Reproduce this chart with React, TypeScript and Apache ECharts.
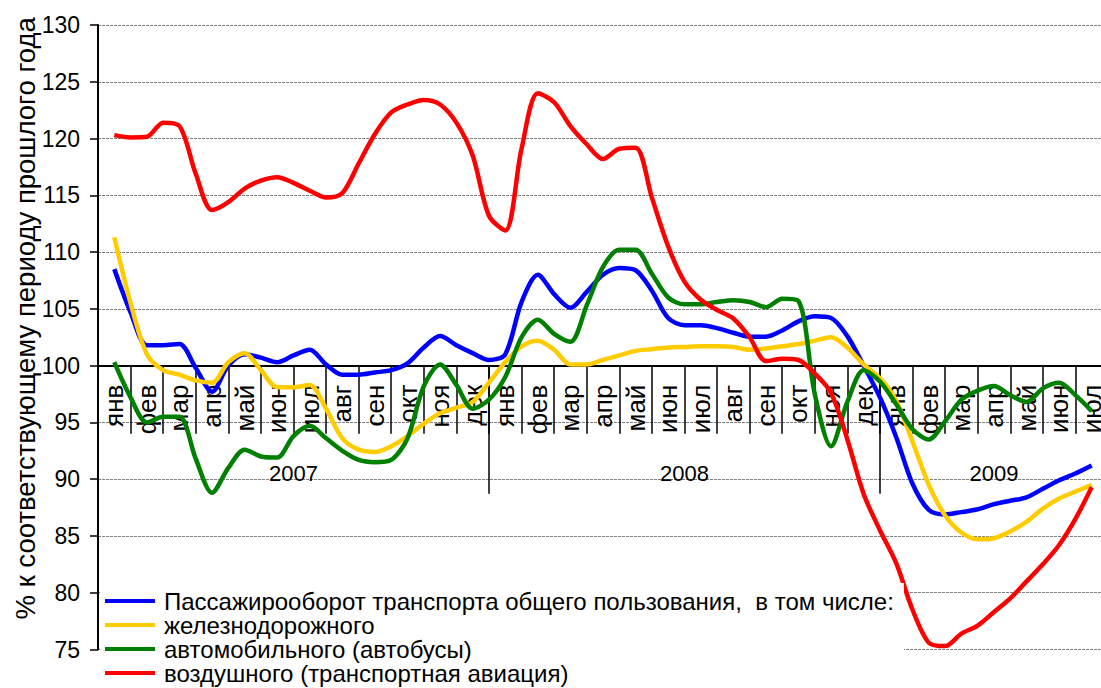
import React, { useEffect, useRef } from 'react';
import * as echarts from 'echarts';

const monthNames = ['янв', 'фев', 'мар', 'апр', 'май', 'июн', 'июл', 'авг', 'сен', 'окт', 'ноя', 'дек'];
const years = ['2007', '2008', '2009'];
const monthsPerYear = [12, 12, 7];
const yTitle = '% к соответствующему периоду прошлого года';

const seriesNames = [
  'Пассажирооборот транспорта общего пользования,  в том числе:',
  'железнодорожного',
  'автомобильного (автобусы)',
  'воздушного (транспортная авиация)',
];
const seriesColors = ['#0000ff', '#ffcc00', '#008000', '#ff0000'];

// values read every half month, starting at January 2007
const totalValues = [
  108.5, 104.7, 101.8, 101.8, 101.9, 99.8, 97.7, 100.0, 101.0, 100.7, 100.3,
  100.9, 101.4, 100.1, 99.2, 99.2, 99.4, 99.6, 100.2, 101.6, 102.6,
  101.8, 101.1, 100.5, 101.0, 105.6, 108.0, 106.3, 105.1, 106.5, 108.0,
  108.6, 108.4, 106.6, 104.2, 103.55, 103.55, 103.3, 102.9, 102.55, 102.55,
  103.1, 103.9, 104.35, 104.2, 102.6, 100.0, 97.2, 93.7, 89.6, 87.3,
  86.9, 87.1, 87.35, 87.8, 88.1, 88.4, 89.15, 89.9, 90.5, 91.2,
];
const railValues = [
  111.3, 105.5, 101.0, 99.6, 99.2, 98.7, 98.5, 100.3, 101.1, 99.6, 98.1,
  98.1, 98.3, 96.2, 93.6, 92.6, 92.4, 92.9, 93.8, 94.9, 95.8,
  96.3, 96.8, 98.5, 100.3, 101.7, 102.2, 101.4, 100.1, 100.1, 100.5,
  100.9, 101.3, 101.45, 101.6, 101.65, 101.7, 101.7, 101.65, 101.4, 101.5,
  101.7, 101.9, 102.2, 102.5, 101.6, 100.1, 98.9, 96.9, 93.3, 89.5,
  86.8, 85.3, 84.7, 84.8, 85.4, 86.25, 87.4, 88.3, 88.9, 89.5,
];
const busValues = [
  100.3, 97.2, 95.0, 95.5, 95.5, 91.8, 88.8, 91.0, 92.6, 92.0, 91.9,
  93.8, 94.7, 93.6, 92.5, 91.7, 91.5, 91.7, 93.6, 98.2, 100.1,
  98.3, 96.2, 97.0, 99.0, 102.5, 104.05, 102.8, 102.1, 105.3, 108.7,
  110.2, 110.2, 108.1, 106.0, 105.4, 105.4, 105.6, 105.75, 105.6, 105.15,
  105.9, 105.7, 97.5, 92.9, 96.8, 99.6, 98.6, 96.6, 94.4, 93.5,
  95.1, 97.0, 97.8, 98.2, 97.4, 96.8, 98.0, 98.5, 97.4, 96.0,
];
const airValues = [
  120.3, 120.1, 120.15, 121.4, 121.1, 116.9, 113.7, 114.4, 115.6, 116.3, 116.6,
  116.1, 115.4, 114.8, 115.2, 117.8, 120.4, 122.3, 123.0, 123.4, 123.0,
  121.4, 118.5, 113.2, 111.9, 119.1, 124.0, 123.2, 121.1, 119.5, 118.2,
  119.1, 119.2, 114.8, 110.5, 107.4, 105.8, 104.9, 104.15, 102.5, 100.4,
  100.6, 100.5, 99.3, 97.6, 93.5, 88.7, 85.5, 82.6, 78.5, 75.6,
  75.3, 76.4, 77.1, 78.3, 79.5, 81.0, 82.5, 84.2, 86.5, 89.3,
];
const allValues = [totalValues, railValues, busValues, airValues];

const yMin = 75;
const yMax = 130;
const yStep = 5;

export default function App() {
  const ref = useRef<HTMLDivElement>(null);

  useEffect(() => {
    if (!ref.current) return;
    const chart = echarts.init(ref.current, undefined, { renderer: 'svg' });

    const categories: string[] = [];
    monthsPerYear.forEach((n) => {
      for (let i = 0; i < n; i++) categories.push(monthNames[i]);
    });
    const nMonths = categories.length;

    const yearBoundaries: number[] = [];
    const yearCenters: number[] = [];
    let start = 0;
    monthsPerYear.forEach((n, k) => {
      yearCenters.push(start + (n - 1) / 2);
      if (k < monthsPerYear.length - 1) yearBoundaries.push(start + n - 0.5);
      start += n;
    });

    const gridTop = 25;
    const gridHeight = 624.5;
    const gridLeft = 98;
    const gridWidth = 1010;
    const axisOffset = -((100 - yMin) / (yMax - yMin)) * gridHeight;

    const font = "'Liberation Sans', Arial, sans-serif";

    const option: any = {
      animation: false,
      backgroundColor: '#ffffff',
      textStyle: { fontFamily: font },
      grid: {
        left: gridLeft,
        top: gridTop,
        width: gridWidth,
        height: gridHeight,
        containLabel: false,
        outerBoundsMode: 'none',
      },
      legend: {
        type: 'plain',
        orient: 'vertical',
        left: 100,
        top: 583,
        backgroundColor: '#ffffff',
        padding: [6, 10, 0, 5],
        itemWidth: 50,
        itemHeight: 4,
        itemGap: 0,
        icon: 'rect',
        selectedMode: false,
        textStyle: { fontSize: 24, color: '#000', lineHeight: 24, padding: [0, 0, 0, 4], fontFamily: font },
        data: seriesNames,
      },
      xAxis: [
        {
          type: 'category',
          data: categories,
          position: 'bottom',
          offset: axisOffset,
          boundaryGap: true,
          axisLine: { show: true, onZero: false, lineStyle: { color: '#000', width: 2 } },
          axisTick: { show: true, interval: 0, length: 68, lineStyle: { color: '#000', width: 1.5 } },
          axisLabel: { interval: 0, rotate: 90, margin: 19, fontSize: 26, color: '#000', fontFamily: font },
          splitLine: { show: false },
        },
        {
          type: 'value',
          min: -0.5,
          max: nMonths - 0.5,
          position: 'bottom',
          offset: axisOffset,
          axisLine: { show: false, onZero: false },
          axisTick: {
            show: true,
            customValues: yearBoundaries,
            length: 128,
            lineStyle: { color: '#000', width: 1.5 },
          },
          axisLabel: {
            show: true,
            customValues: yearCenters,
            margin: 97,
            fontSize: 22,
            color: '#000',
            fontFamily: font,
            formatter: (v: number) => {
              const idx = yearCenters.findIndex((c) => Math.abs(c - v) < 0.01);
              return idx >= 0 ? years[idx] : '';
            },
          },
          splitLine: { show: false },
        },
      ],
      yAxis: {
        type: 'value',
        min: yMin,
        max: yMax,
        interval: yStep,
        name: yTitle,
        nameLocation: 'middle',
        nameGap: 59,
        nameRotate: 90,
        nameMoveOverlap: false,
        nameTextStyle: { fontSize: 27.5, color: '#000', fontFamily: font, padding: [0, 0, 0, 38] },
        axisLine: { show: true, onZero: false, lineStyle: { color: '#000', width: 2 } },
        axisTick: { show: true, length: 8, lineStyle: { color: '#000', width: 1.5 } },
        axisLabel: { fontSize: 23, color: '#000', margin: 18, fontFamily: font },
        splitLine: { show: true, lineStyle: { color: '#808080', width: 1, type: [3, 1] } },
      },
      series: allValues.map((vals, k) => ({
        name: seriesNames[k],
        type: 'line',
        xAxisIndex: 1,
        yAxisIndex: 0,
        data: vals.map((v, i) => [i / 2, v]),
        smooth: 0.3,
        symbol: 'none',
        color: seriesColors[k],
        lineStyle: { width: 4.5, color: seriesColors[k] },
      })),
    };

    chart.setOption(option);
    return () => chart.dispose();
  }, []);

  return (
    <div
      ref={ref}
      style={{ position: 'fixed', left: 0, top: 0, width: 1101, height: 688, background: '#fff' }}
    />
  );
}
